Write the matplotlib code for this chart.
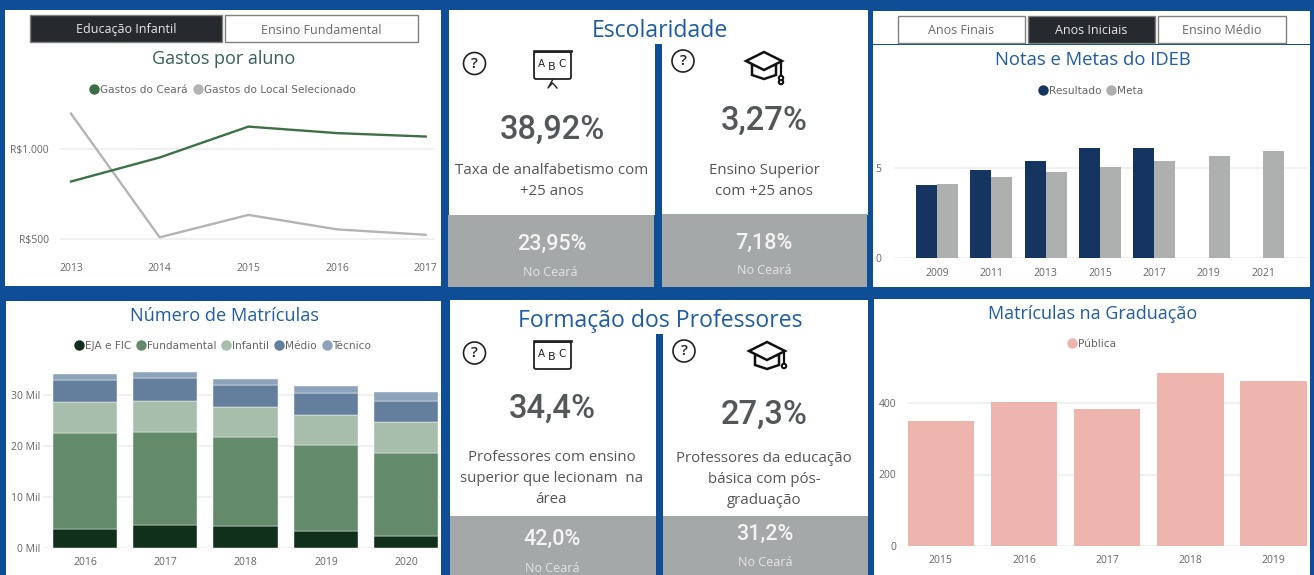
import numpy as np
import matplotlib
matplotlib.use("Agg")
import matplotlib.pyplot as plt
from matplotlib.patches import Rectangle, Circle, Polygon, FancyBboxPatch
from matplotlib.lines import Line2D

# ---------- data ----------
gastos_anos = ["2013", "2014", "2015", "2016", "2017"]
gastos_ceara = [820, 953, 1124, 1088, 1069]
gastos_local = [1196, 511, 635, 555, 525]

ideb_anos = ["2009", "2011", "2013", "2015", "2017", "2019", "2021"]
ideb_resultado = [4.08, 4.9, 5.4, 6.13, 6.1, np.nan, np.nan]
ideb_meta = [4.13, 4.52, 4.8, 5.07, 5.37, 5.66, 5.92]

matr_anos = ["2016", "2017", "2018", "2019", "2020"]
matr_eja = [3.7, 4.5, 4.2, 3.3, 2.3]
matr_fund = [18.95, 18.35, 17.5, 16.9, 16.35]
matr_inf = [5.95, 5.95, 5.9, 6.0, 6.1]
matr_med = [4.4, 4.6, 4.4, 4.3, 4.05]
matr_tec = [1.1, 1.1, 1.2, 1.3, 1.9]

grad_anos = ["2015", "2016", "2017", "2018", "2019"]
grad_publica = [350, 405, 383, 486, 464]

# ---------- style ----------
W, H = 1314, 575
BLUE = "#0D4E96"
TITLE = "#1F5CA8"
GRAYBOX = "#A5A8A9"
TXT = "#666666"
GRID = "#EDEDED"
SANS = "Open Sans"
NUM = "Roboto"
LEG = "DejaVu Sans"

fig = plt.figure(figsize=(W / 100, H / 100), dpi=100, facecolor=BLUE)
bg = fig.add_axes([0, 0, 1, 1], zorder=0)
bg.set_xlim(0, W)
bg.set_ylim(H, 0)
bg.axis("off")


def box(x0, y0, x1, y1, fc="white", ec="none", lw=0, z=1):
    bg.add_patch(Rectangle((x0, y0), x1 - x0, y1 - y0, fc=fc, ec=ec, lw=lw, zorder=z))


def label(x, y, s, size, color, family=SANS, **kw):
    return bg.text(x, y, s, fontsize=size, color=color, family=family,
                   ha="center", va="center", zorder=7, **kw)


def chart(x0, y0, x1, y1, xref, yref):
    """Axes at a pixel rectangle; xref/yref = ((px, value), (px, value))."""
    ax = fig.add_axes([x0 / W, 1 - y1 / H, (x1 - x0) / W, (y1 - y0) / H], zorder=3)
    ax.patch.set_alpha(0)
    for s in ax.spines.values():
        s.set_visible(False)
    (pa, va), (pb, vb) = xref
    k = (vb - va) / (pb - pa)
    ax.set_xlim(va + (x0 - pa) * k, va + (x1 - pa) * k)
    (pa, va), (pb, vb) = yref
    k = (vb - va) / (pb - pa)
    ax.set_ylim(va + (y1 - pa) * k, va + (y0 - pa) * k)
    ax.grid(axis="y", color=GRID, lw=1.2)
    ax.set_axisbelow(True)
    ax.tick_params(length=0, labelsize=7.5, labelcolor=TXT)
    return ax


def legend(cx, cy, items):
    handles = [Line2D([], [], ls="", marker="o", ms=7.5, mfc=c, mec="none", label=n) for n, c in items]
    fig.legend(handles=handles, loc="center", bbox_to_anchor=(cx / W, 1 - cy / H), frameon=False,
               ncol=len(items), handletextpad=-0.05, columnspacing=0.35, handlelength=1.2,
               borderpad=0, labelcolor=TXT, prop={"family": LEG, "size": 7.6})


def ticks(ax, xt, xl, yt, yl, xpad, ypad):
    ax.set_xticks(xt, xl)
    ax.set_yticks(yt, yl)
    ax.tick_params(axis="x", pad=xpad)
    ax.tick_params(axis="y", pad=ypad)
    for t in ax.get_xticklabels() + ax.get_yticklabels():
        t.set_family(SANS)


def question(cx, cy):
    bg.add_patch(Circle((cx, cy), 11, fc="white", ec="#222222", lw=1.2, zorder=5))
    label(cx, cy, "?", 11, "#222222", family=SANS, fontweight="semibold")


def board(y, legs):
    k = "#222222"
    bg.add_patch(FancyBboxPatch((534, y), 37, 27, boxstyle="round,pad=0,rounding_size=2",
                                fc="white", ec=k, lw=1.3, zorder=5))
    bg.add_patch(Rectangle((533, y - 2), 39, 2, fc=k, ec=k, lw=0.5, zorder=6))
    label(541.5, y + 12, "A", 7.5, k, family=LEG)
    label(552, y + 15, "B", 8, k, family=LEG)
    label(562, y + 12, "C", 7.5, k, family=LEG)
    if legs:
        bg.plot([552.5, 548, 552.5, 557], [y + 28, y + 36, y + 31, y + 36], color=k, lw=1, zorder=5)


def cap(cx, cy, tail):
    k = "#111111"
    bg.add_patch(Polygon([(cx - 12, cy + 5), (cx - 12, cy + 15), (cx, cy + 19), (cx + 12, cy + 15), (cx + 12, cy + 5)],
                         closed=True, fc="white", ec=k, lw=1.8, zorder=5))
    bg.add_patch(Polygon([(cx - 18, cy + 1), (cx, cy - 8), (cx + 18, cy + 1), (cx, cy + 10)],
                         closed=True, fc="white", ec=k, lw=1.8, zorder=6))
    bg.plot([cx + 17, cx + 17], [cy + 2, cy + tail], color=k, lw=1.6, zorder=6)
    bg.add_patch(Circle((cx + 17, cy + tail + 2), 2.2, fc="white", ec=k, lw=1.5, zorder=6))
    if tail > 18:
        bg.add_patch(Circle((cx + 17, cy + tail - 2), 2.2, fc="white", ec=k, lw=1.5, zorder=6))


# ---------- panels ----------
box(5, 10, 441, 286)
box(449, 10, 868, 44)
box(449, 44, 655, 215)
box(662, 44, 868, 215)
box(448, 215, 654, 287, fc=GRAYBOX)
box(662, 214, 867, 287, fc=GRAYBOX)
box(873, 11, 1310, 287)
box(870, 44, 1314, 44.7, fc=BLUE, z=2)
box(6, 301, 441, 575)
box(450, 300, 868, 334)
box(450, 334, 656, 516)
box(663, 334, 868, 516)
box(450, 516, 656, 575, fc=GRAYBOX)
box(663, 516, 868, 575, fc=GRAYBOX)
box(874, 299, 1310, 575)

# buttons
for x0, y0, x1, y1, s, dark in [
    (30, 15, 222, 42, "Educação Infantil", True),
    (225, 15, 418, 42, "Ensino Fundamental", False),
    (898, 16, 1025, 43, "Anos Finais", False),
    (1028, 16, 1155, 43, "Anos Iniciais", True),
    (1158, 16, 1286, 43, "Ensino Médio", False),
]:
    box(x0, y0, x1, y1, fc="#26292D" if dark else "white", ec="#808080", lw=1, z=3)
    label((x0 + x1) / 2, (y0 + y1) / 2 + 1.5, s, 9, "#E8E8E8" if dark else "#6A6A6A")

# titles
label(223.5, 59, "Gastos por aluno", 13, "#35605A")
label(660, 31, "Escolaridade", 16.6, TITLE)
label(660, 321, "Formação dos Professores", 16.6, TITLE)
label(1093, 60, "Notas e Metas do IDEB", 13.3, TITLE)
label(225, 316, "Número de Matrículas", 13.1, TITLE)
label(1093, 314, "Matrículas na Graduação", 13, TITLE)

# KPI cards
DARKNUM = "#53575A"
BODY = "#555555"
for x, y, s in [(552, 130, "38,92%"), (764, 121, "3,27%"), (552, 409, "34,4%"), (764, 415, "27,3%")]:
    label(x, y, s, 23.5, DARKNUM, family=NUM, fontweight="medium")
for x, y, s in [(552, 244, "23,95%"), (764, 243, "7,18%"), (552, 539, "42,0%"), (765, 534, "31,2%")]:
    label(x, y, s, 15.5, "#F4F4F4", family=NUM, fontweight="medium")
for x, y in [(550, 272), (764, 271), (552, 568), (765, 562)]:
    label(x, y, "No Ceará", 9, "#E4E4E4")
for x, y, s in [(552, 170.5, "Taxa de analfabetismo com"), (552, 191.5, "+25 anos"),
                (764, 170.5, "Ensino Superior"), (764, 191.5, "com +25 anos"),
                (552, 457.5, "Professores com ensino"), (552, 478.5, "superior que lecionam  na"), (551, 499.5, "área"),
                (764, 479.5, "básica com pós-"), (764, 500.5, "graduação")]:
    label(x, y, s, 10.8, BODY)
cut = label(764, 458.5, "Professores da educação", 10.8, BODY)
cut.set_clip_on(True)
cut.set_clip_path(Rectangle((655, 452), 220, 20, transform=bg.transData))

question(474.5, 63.5)
question(683, 61)
question(474.5, 353)
question(684, 351)
board(52, True)
board(342, False)
cap(764, 60, 20)
cap(767, 350, 14)

# Gastos por aluno
ax = chart(60, 100, 435, 248, ((71, 0), (425.7, 4)), ((149, 1000), (239.3, 500)))
x = np.arange(len(gastos_anos))
ax.plot(x, gastos_local, color="#B4B4B4", lw=1.7)
ax.plot(x, gastos_ceara, color="#3F7048", lw=1.7)
ticks(ax, x, gastos_anos, [500, 1000], ["R$500", "R$1.000"], 11, 8)
legend(221.7, 89.7, [("Gastos do Ceará", "#3A6F46"), ("Gastos do Local Selecionado", "#B4B4B4")])

# IDEB
ax = chart(894, 100, 1306.7, 258.3, ((937, 0), (991.33, 1)), ((258.3, 0), (168, 5)))
x = np.arange(len(ideb_anos))
bw = 0.388
ax.bar(x - bw / 2, ideb_resultado, bw, color="#15345F")
ax.bar(x + bw / 2, ideb_meta, bw, color="#AEB0AF")
ticks(ax, x, ideb_anos, [0, 5], ["0", "5"], 7, 9)
legend(1090, 90.5, [("Resultado", "#15345F"), ("Meta", "#AEB0AF")])

# Número de matrículas
ax = chart(43, 365, 440, 547.7, ((85, 0), (165.3, 1)), ((547.7, 0), (395.3, 30)))
x = np.arange(len(matr_anos))
series = [("EJA e FIC", matr_eja, "#11301B"), ("Fundamental", matr_fund, "#628A6B"),
          ("Infantil", matr_inf, "#A8BEAC"), ("Médio", matr_med, "#637F9D"), ("Técnico", matr_tec, "#8DA3B9")]
bottom = np.zeros(len(x))
for name, vals, col in series:
    ax.bar(x, vals, 0.8, bottom=bottom, color=col, edgecolor="white", linewidth=0.3)
    bottom += np.array(vals)
ticks(ax, x, matr_anos, [0, 10, 20, 30], ["0 Mil", "10 Mil", "20 Mil", "30 Mil"], 7, 2)
legend(222, 346, [(n, c) for n, _, c in series])

# Matrículas na graduação
ax = chart(907.7, 370, 1307, 545.7, ((940.8, 0), (1023.97, 1)), ((545.7, 0), (403.3, 400)))
x = np.arange(len(grad_anos))
ax.bar(x, grad_publica, 0.8, color="#EEB5AE")
ticks(ax, x, grad_anos, [0, 200, 400], ["0", "200", "400"], 7, 8)
legend(1090.5, 344, [("Pública", "#EEB5AE")])

fig.savefig("out.png", dpi=100, facecolor=BLUE)
